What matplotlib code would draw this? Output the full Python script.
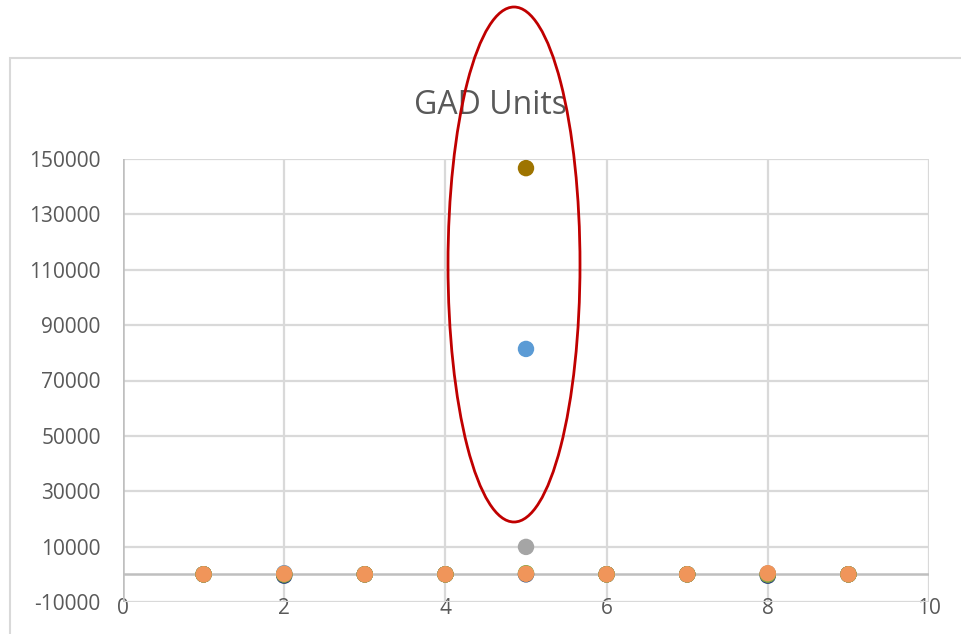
import matplotlib
matplotlib.use("Agg")
import matplotlib.pyplot as plt
from matplotlib.patches import Ellipse, Rectangle

# data
x_vals = [1, 2, 3, 4, 5, 6, 7, 8, 9]
navy_vals = [0, -500, 0, 0, 0, 0, 0, -500, 0]
blue_vals = [0, 400, 0, 0, 81400, 0, 0, 300, 0]
gray_vals = [0, 0, 0, 0, 9900, 0, 0, 0, 0]
gold_vals = [0, 0, 0, 0, 146700, 0, 0, 0, 0]
green_vals = [0, 0, 0, 0, 400, 0, 0, 0, 0]
orange_vals = [0, 200, 0, 0, 200, 0, 0, 400, 0]

y_ticks = list(range(-10000, 150001, 20000))
x_ticks = [0, 2, 4, 6, 8, 10]

plt.rcParams["font.family"] = ["Open Sans", "DejaVu Sans"]

W, H = 961, 634
fig = plt.figure(figsize=(W / 100, H / 100), dpi=100)
ax = fig.add_axes([123 / W, 1 - 602 / H, (929 - 123) / W, (602 - 159) / H])

series = [
    (navy_vals, "#264478"),
    (blue_vals, "#5B9BD5"),
    (gray_vals, "#A5A5A5"),
    (gold_vals, "#9E7400"),
    (green_vals, "#70AD47"),
    (orange_vals, "#F0955A"),
]
for vals, col in series:
    ax.scatter(x_vals, vals, s=140, color=col, edgecolors="none", zorder=3, clip_on=False)

ax.set_xlim(0, 10)
ax.set_ylim(-10000, 150000)
ax.set_xticks(x_ticks)
ax.set_yticks(y_ticks)
ax.set_yticklabels([str(v) for v in y_ticks])
ax.grid(True, color="#D9D9D9", lw=1.6)
ax.set_axisbelow(True)
for s in ax.spines.values():
    s.set_visible(False)
ax.axhline(0, color="#BFBFBF", lw=1.8, zorder=2)
ax.axvline(0, color="#BFBFBF", lw=1.8, zorder=2)
ax.tick_params(axis="both", length=0, labelsize=15, labelcolor="#595959")
ax.tick_params(axis="y", pad=16)
ax.tick_params(axis="x", pad=-3)

fig.text(490 / W, 1 - 105 / H, "GAD Units", ha="center", va="center",
         fontsize=23, color="#595959")

# chart area border
fig.patches.append(Rectangle((10 / W, -0.1), 1.2, 1 - 58 / H + 0.1, transform=fig.transFigure,
                             fill=False, edgecolor="#D9D9D9", lw=1.5))

# red highlight ellipse
fig.patches.append(Ellipse((514 / W, 1 - 264.5 / H), 132 / W, 515 / H, transform=fig.transFigure,
                           fill=False, edgecolor="#C00000", lw=2, zorder=5))

fig.savefig("out.png", dpi=100)
plt.close(fig)
